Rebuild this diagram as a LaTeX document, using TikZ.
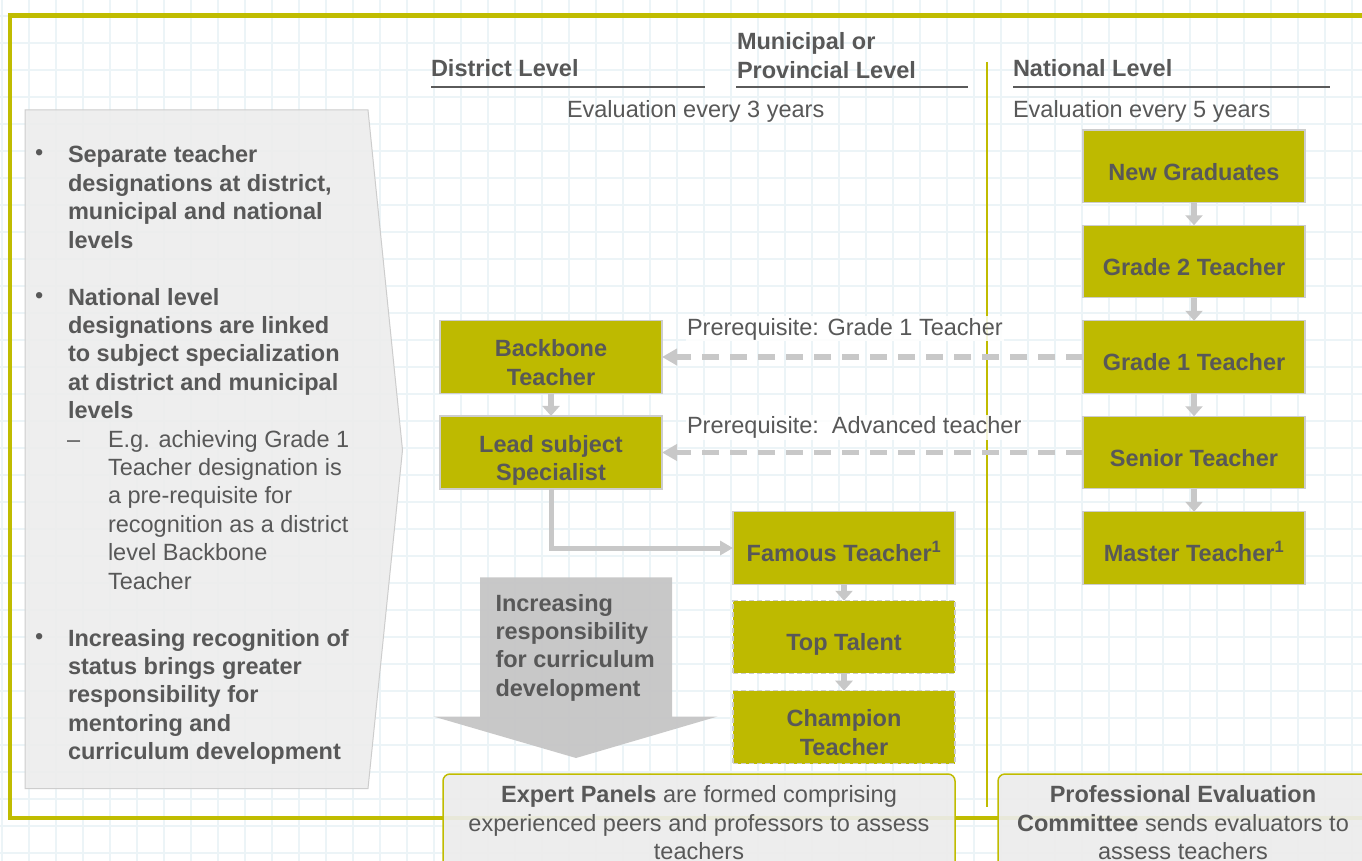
\documentclass[tikz,border=0pt]{standalone}
\usepackage{fontspec}
\setmainfont{Liberation Sans}
\usetikzlibrary{arrows.meta}
\definecolor{olivebox}{RGB}{190,186,0}
\definecolor{oliveline}{RGB}{192,188,0}
\definecolor{txtgray}{RGB}{88,88,88}
\definecolor{conngray}{RGB}{200,200,200}
\definecolor{boxedge}{RGB}{205,205,205}
\definecolor{gridmaj}{RGB}{236,244,247}
\definecolor{panelfill}{RGB}{236,236,236}
\definecolor{panelline}{RGB}{205,205,205}
\definecolor{bigarrowgray}{RGB}{196,196,196}
\definecolor{ulinegray}{RGB}{90,90,90}
\newcommand{\myfs}{\fontsize{23.5}{28.4}\selectfont}
\newcommand{\ltab}[1]{\begin{tabular}[t]{@{}l@{}}#1\end{tabular}}
\newcommand{\ctab}[1]{\begin{tabular}[t]{@{}c@{}}#1\end{tabular}}
\tikzset{
  every node/.style={inner sep=0pt, outer sep=0pt, text=txtgray, font=\myfs},
  tbox/.style={draw=boxedge, line width=1.2pt, fill=olivebox, minimum width=222pt,
    minimum height=72.5pt, text height=36.2pt, font=\myfs\bfseries},
  dbox/.style={tbox, dash pattern=on 5pt off 3pt},
  vconn/.style={draw=conngray, line width=6.5pt, -{Triangle[length=10pt,width=17pt]}},
  dconn/.style={draw=conngray, line width=5.5pt, dash pattern=on 17pt off 11pt,
    -{Triangle[length=15pt,width=16pt]}},
  econn/.style={draw=conngray, line width=5pt, -{Triangle[length=13pt,width=14pt]}},
  panelbox/.style={draw=oliveline, line width=1.5pt, rounded corners=7pt,
    fill=panelfill, fill opacity=0.92, text opacity=1},
  uline/.style={draw=ulinegray, line width=1.5pt},
  gridln/.style={draw=gridmaj, line width=1.1pt},
  lbl/.style={fill=white, fill opacity=0.85, text opacity=1, inner sep=1.5pt}
}
\begin{document}
\begin{tikzpicture}[x=1pt,y=-1pt]
\useasboundingbox (0,0) rectangle (1362,861);
\clip (0,0) rectangle (1362,861);
\fill[white] (0,0) rectangle (1362,861);
% background grid
\foreach \i in {0,...,51} { \draw[gridln] ({2+27*\i},0) -- ({2+27*\i},861); }
\foreach \j in {0,...,32} { \draw[gridln] (0,{-11+27*\j}) -- (1362,{-11+27*\j}); }
% outer frame
\draw[oliveline, line width=4.5pt] (10,15.5) rectangle (1385,818);
% left panel
\filldraw[fill=panelfill, fill opacity=0.85, draw=panelline, line width=1pt]
  (25,110) -- (368,110) -- (402.5,450) -- (368,788.5) -- (25,788.5) -- cycle;
\node[anchor=base west] (bu1) at (35,161) {•};
\node[anchor=base west, font=\myfs\bfseries] (b1) at (68,163)
  {\ltab{Separate teacher\\designations at district,\\municipal and national\\levels}};
\node[anchor=base west] (bu2) at (35,303) {•};
\node[anchor=base west, font=\myfs\bfseries] (b2) at (68,305)
  {\ltab{National level\\designations are linked\\to subject specialization\\at district and municipal\\levels}};
\node[anchor=base west] (dash1) at (67,447) {–};
\node[anchor=base west] (s1) at (108,447)
  {\ltab{E.g. achieving Grade 1\\Teacher designation is\\a pre-requisite for\\recognition as a district\\level Backbone\\Teacher}};
\node[anchor=base west] (bu3) at (35,644) {•};
\node[anchor=base west, font=\myfs\bfseries] (b3) at (68,646)
  {\ltab{Increasing recognition of\\status brings greater\\responsibility for\\mentoring and\\curriculum development}};
% divider
\draw[oliveline, line width=1.5pt] (987,62) -- (987,806.5);
% headers
\node[anchor=base west, font=\myfs\bfseries] (hdist) at (431,76.5) {District Level};
\node[anchor=base west, font=\myfs\bfseries] (hmun) at (737,50) {\ltab{Municipal or\\Provincial Level}};
\node[anchor=base west, font=\myfs\bfseries] (hnat) at (1013,76.5) {National Level};
\draw[uline] (431,87) -- (705,87);
\draw[uline] (736,87) -- (968,87);
\draw[uline] (1013,87) -- (1330,87);
\node[anchor=base west] (ev3) at (567,118) {Evaluation every 3 years};
\node[anchor=base west] (ev5) at (1013,118) {Evaluation every 5 years};
% big arrow
\fill[bigarrowgray, fill opacity=0.92] (480,577.3) -- (672,577.3) -- (672,716.5) -- (717.5,716.5)
  -- (576,758) -- (433.5,716.5) -- (480,716.5) -- cycle;
\node[anchor=base west, font=\myfs\bfseries] (incr) at (495.5,611)
  {\ltab{Increasing\\responsibility\\for curriculum\\development}};
% boxes national
\node[tbox] (ng) at (1194,166.2) {\ctab{New Graduates}};
\node[tbox] (g2) at (1194,261.5) {\ctab{Grade 2 Teacher}};
\node[tbox] (g1) at (1194,357) {\ctab{Grade 1 Teacher}};
\node[tbox] (st) at (1194,452.5) {\ctab{Senior Teacher}};
\node[tbox] (mt) at (1194,548) {\ctab{Master Teacher\textsuperscript{1}}};
% district
\node[tbox] (bb) at (551,357) {\ctab{Backbone\\Teacher}};
\node[tbox] (lead) at (551,452.5) {\ctab{Lead subject\\Specialist}};
% municipal
\node[tbox] (fam) at (844,548) {\ctab{Famous Teacher\textsuperscript{1}}};
\node[dbox] (top) at (844,637) {\ctab{Top Talent}};
\node[dbox] (champ) at (844,727.3) {\ctab{Champion\\Teacher}};
% connectors
\draw[vconn] (ng) -- (g2);
\draw[vconn] (g2) -- (g1);
\draw[vconn] (g1) -- (st);
\draw[vconn] (st) -- (mt);
\draw[vconn] (bb) -- (lead);
\draw[vconn] (fam) -- (top);
\draw[vconn] (top) -- (champ);
\draw[dconn] (g1) -- (bb);
\draw[dconn] (st) -- (lead);
\draw[econn] (lead.south) |- (fam.west);
% labels
\node[lbl, anchor=base west] (pr1) at (685.5,335) {Prerequisite: Grade 1 Teacher};
\node[lbl, anchor=base west] (pr2) at (685.5,433.3) {Prerequisite:\ \ Advanced teacher};
% bottom panels
\node[panelbox, anchor=north west, minimum width=512pt, minimum height=102.8pt] (expert) at (443,774)
  {\ctab{\textbf{Expert Panels} are formed comprising\\experienced peers and professors to assess\\teachers}};
\node[panelbox, anchor=north west, minimum width=370pt, minimum height=102.8pt] (pec) at (998,774)
  {\ctab{\textbf{Professional Evaluation}\\\textbf{Committee} sends evaluators to\\assess teachers}};
\end{tikzpicture}
\end{document}
